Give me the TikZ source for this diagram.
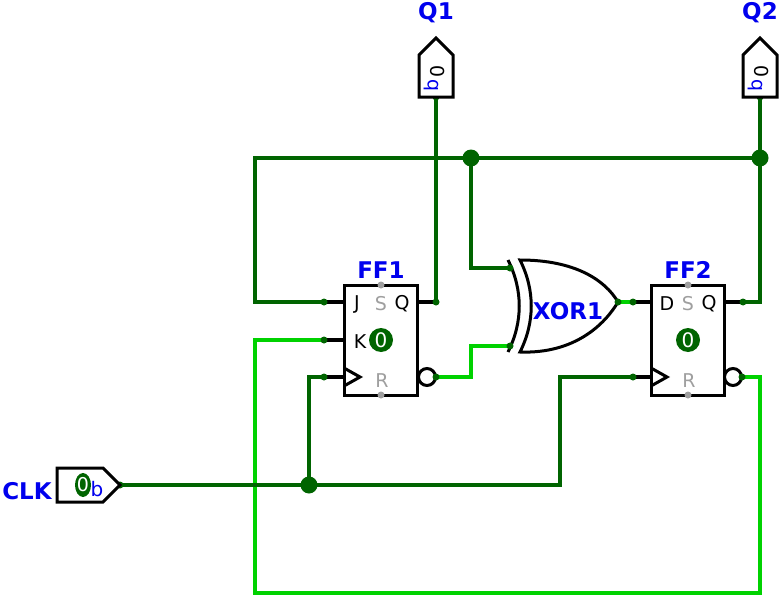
\documentclass[tikz,border=0pt]{standalone}
\usepackage{fontspec}
\setmainfont{DejaVu Sans}
\definecolor{dkg}{RGB}{0,100,0}
\definecolor{ltg}{RGB}{0,210,0}
\definecolor{lblue}{RGB}{0,0,238}
\begin{document}
\begin{tikzpicture}[x=1pt,y=-1pt,
  dk/.style={draw=dkg,line width=4.5pt},
  lt/.style={draw=ltg,line width=4.5pt},
  box/.style={draw=black,line width=3pt,fill=white},
  stub/.style={draw=black,line width=4.5pt},
  lbl/.style={text=lblue,font=\bfseries\fontsize{23}{23}\selectfont},
  pl/.style={font=\fontsize{19}{19}\selectfont},
  gp/.style={font=\fontsize{19}{19}\selectfont,text=gray!75},
  jd/.style={circle,fill=dkg,inner sep=0pt,minimum size=17pt},
  sd/.style={circle,fill=dkg,inner sep=0pt,minimum size=7pt},
  gd/.style={circle,fill=gray!75,inner sep=0pt,minimum size=7pt}]
\useasboundingbox (0,0) rectangle (780,597);
% coordinates
\coordinate (f1j) at (324,302); \coordinate (f1k) at (324,340); \coordinate (f1c) at (324,377);
\coordinate (f1q) at (436,302); \coordinate (f1n) at (436,377);
\coordinate (f2d) at (633,302); \coordinate (f2c) at (633,377);
\coordinate (f2q) at (743,302); \coordinate (f2n) at (742,377);
\coordinate (xa) at (510,268); \coordinate (xb) at (510,346); \coordinate (xo) at (618,302);
\coordinate (q1) at (436,97); \coordinate (q2) at (760,97); \coordinate (clk) at (120,485);
\coordinate (t1) at (471,158); \coordinate (t2) at (760,158); \coordinate (c1) at (309,485);
% wires
\draw[lt] (f1k) -- (255,340) -- (255,593) -- (760,593) -- (760,377) -- (f2n);
\draw[lt] (f1n) -- (471,377) -- (471,346) -- (xb);
\draw[lt] (xo) -- (f2d);
\draw[dk] (q1) -- (f1q);
\draw[dk] (q2) -- (760,302) -- (f2q);
\draw[dk] (t2) -- (255,158) -- (255,302) -- (f1j);
\draw[dk] (t1) -- (471,268) -- (xa);
\draw[dk] (clk) -- (560,485) -- (560,377) -- (f2c);
\draw[dk] (c1) -- (309,377) -- (f1c);
% FF1
\draw[stub] (f1j) -- (344,302) (f1k) -- (344,340) (f1c) -- (344,377) (417,302) -- (f1q);
\draw[box] (344,285) rectangle (417,395);
\draw[line width=3pt] (344,368) -- (360,377) -- (344,386);
\draw[line width=3pt,fill=white] (427,377) circle (8.5);
\node[gd] at (381,285) {}; \node[gd] at (381,395) {};
\node[pl] at (357,304) {J}; \node[gp] at (381,304) {S}; \node[pl] at (402,304) {Q};
\node[pl] at (360,342) {K}; \node[gp] at (382,381) {R};
\node[circle,fill=dkg,text=white,inner sep=0pt,minimum size=24pt,font=\fontsize{20}{20}\selectfont] at (381,340) {0};
\node[lbl] (ff1) at (381,270) {FF1};
% FF2
\draw[stub] (f2d) -- (651,302) (f2c) -- (651,377) (724,302) -- (f2q);
\draw[box] (651,285) rectangle (724,395);
\draw[line width=3pt] (651,368) -- (667,377) -- (651,386);
\draw[line width=3pt,fill=white] (733,377) circle (8.5);
\node[gd] at (688,285) {}; \node[gd] at (688,395) {};
\node[pl] at (667,304) {D}; \node[gp] at (688,304) {S}; \node[pl] at (709,304) {Q};
\node[gp] at (689,381) {R};
\node[circle,fill=dkg,text=white,inner sep=0pt,minimum size=24pt,font=\fontsize{20}{20}\selectfont] at (688,340) {0};
\node[lbl] (ff2) at (688,270) {FF2};
% XOR
\draw[line width=3pt,fill=white] (520,260) .. controls (575,260) and (605,280) .. (618,302) .. controls (605,324) and (575,354) .. (520,352) .. controls (535,322) and (535,290) .. (520,260) -- cycle;
\draw[line width=3pt] (508,260) .. controls (523,290) and (523,322) .. (508,352);
\node[lbl] (xor) at (568,311) {XOR1};
% junctions
\node[jd] at (t1) {}; \node[jd] at (t2) {}; \node[jd] at (c1) {};
\foreach \p in {f1j,f1k,f1c,f1q,f1n,f2d,f2c,f2q,f2n,xa,xb,xo,q1,q2,clk} \node[sd] at (\p) {};
% output pins
\foreach \x/\n in {436/Q1,760/Q2}{
  \draw[line width=3pt,fill=white] (\x-17,97) -- (\x-17,55) -- (\x,38) -- (\x+17,55) -- (\x+17,97) -- cycle;
  \node[rotate=90,font=\fontsize{19}{19}\selectfont] at (\x+2,71) {0};
  \node[rotate=90,text=lblue,font=\fontsize{19}{19}\selectfont] at (\x-5,85) {b};
  \node[lbl] at (\x,13) {\n};
}
% CLK pin
\draw[line width=3pt,fill=white] (57,468) -- (103,468) -- (120,485) -- (103,502) -- (57,502) -- cycle;
\fill[dkg] (83,485) ellipse (8 and 12);
\node[text=white,font=\fontsize{19}{19}\selectfont] at (83,485) {0};
\node[text=lblue,font=\fontsize{20}{20}\selectfont] at (97,489) {b};
\node[lbl] (clklbl) at (27,491) {CLK};
\end{tikzpicture}
\end{document}
